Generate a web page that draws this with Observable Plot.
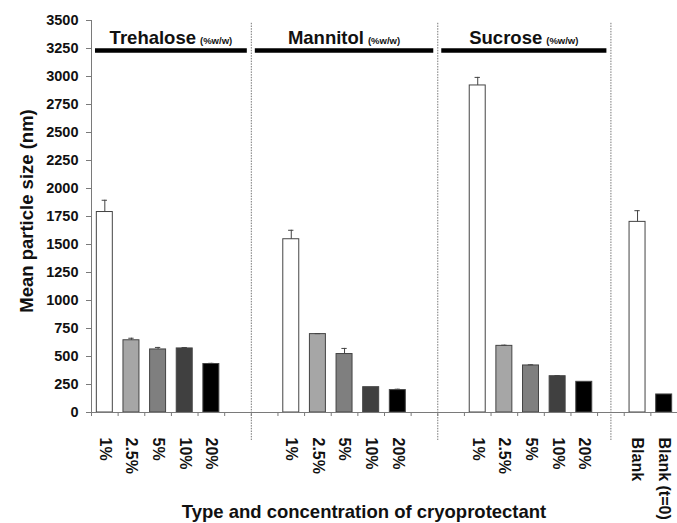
<!DOCTYPE html>
<html><head><meta charset="utf-8">
<script src="https://cdn.jsdelivr.net/npm/d3@7"></script>
<script src="https://cdn.jsdelivr.net/npm/@observablehq/plot@0.6"></script>
<style>
body{margin:0;background:#fff;}
svg{font-family:"Liberation Sans",Arial,sans-serif;}
</style>
</head><body><div id="chart"></div>
<script>
// ---- data ----
const groups = ["Trehalose", "Mannitol", "Sucrose"];
const groupUnit = "(%w/w)";
const concentrations = ["1%", "2.5%", "5%", "10%", "20%"];
const trehaloseSize = [1790, 645, 563, 572, 433];
const trehaloseErr  = [105, 18, 18, 8, 6];
const mannitolSize  = [1547, 700, 522, 226, 200];
const mannitolErr   = [80, 4, 50, 0, 8];
const sucroseSize   = [2920, 595, 420, 324, 274];
const sucroseErr    = [72, 6, 6, 6, 0];
const blankLabels   = ["Blank", "Blank (t=0)"];
const blankSize     = [1702, 161];
const blankErr      = [100, 0];
const yTicks = [0, 250, 500, 750, 1000, 1250, 1500, 1750, 2000, 2250, 2500, 2750, 3000, 3250, 3500];
const yLabel = "Mean particle size (nm)";
const xLabel = "Type and concentration of cryoprotectant";

const colorDomain = [...concentrations, ...blankLabels];
const colorRange = ["#ffffff", "#a6a6a6", "#7f7f7f", "#404040", "#000000", "#ffffff", "#000000"];

// ---- layout (slots on a category axis) ----
const sizes = [trehaloseSize, mannitolSize, sucroseSize];
const errs = [trehaloseErr, mannitolErr, sucroseErr];
const gapAfter = [2, 2, 1];
const rows = [];
const dividers = [];
const spans = [];
let slot = 0;
let prev = 0;
groups.forEach((g, gi) => {
  sizes[gi].forEach((v, i) => {
    rows.push({slot, label: concentrations[i], key: concentrations[i], value: v, err: errs[gi][i]});
    slot++;
  });
  const div = slot + gapAfter[gi] / 2;
  dividers.push(div);
  spans.push({group: g, x1: prev + 0.15, x2: div - 0.15});
  prev = div;
  slot += gapAfter[gi];
});
blankLabels.forEach((b, i) => {
  rows.push({slot, label: b, key: b, value: blankSize[i], err: blankErr[i]});
  slot++;
});
const nSlots = slot;
const errRows = rows.filter(d => d.err > 0);

const axisGray = "#7a7a7a";
const barStroke = "#444";

const chart = Plot.plot({
  width: 677, height: 523,
  marginLeft: 91, marginRight: 0, marginTop: 20, marginBottom: 111,
  x: {domain: [0, nSlots], axis: null},
  y: {domain: [0, 3500], axis: null},
  color: {domain: colorDomain, range: colorRange},
  style: {fontFamily: "'Liberation Sans', Arial, sans-serif", background: "white", color: "#111", overflow: "visible"},
  marks: [
    Plot.ruleX(dividers, {x: d => d, y1: 3475, y2: -250, stroke: "#777", strokeWidth: 1, strokeDasharray: "1.5,1.2"}),
    Plot.rectY(rows, {x1: d => d.slot + 0.2, x2: d => d.slot + 0.8, y1: 0, y2: "value", fill: "key", stroke: barStroke, strokeWidth: 1}),
    Plot.ruleX(errRows, {x: d => d.slot + 0.5, y1: "value", y2: d => d.value + d.err, stroke: barStroke, strokeWidth: 1}),
    Plot.ruleY(errRows, {y: d => d.value + d.err, x1: d => d.slot + 0.4, x2: d => d.slot + 0.6, stroke: barStroke, strokeWidth: 1}),
    Plot.axisY({ticks: yTicks, tickFormat: d => String(d), tickSize: 5, tickPadding: 8, fontSize: 14.5, fontWeight: "bold", label: null, stroke: axisGray, color: "#111"}),
    Plot.axisX({ticks: d3.range(0, nSlots + 1), tickSize: 4, tickFormat: () => "", label: null, stroke: axisGray}),
    Plot.ruleY([0], {stroke: axisGray}),
    Plot.ruleX([0], {stroke: axisGray}),
    Plot.text(rows, {x: d => d.slot + 0.5, y: 0, text: "label", rotate: 90, textAnchor: "start", lineAnchor: "middle", dy: 25, fontSize: 16, fontWeight: "bold", fill: "#111"}),
    Plot.ruleY(spans, {y: 3232, x1: "x1", x2: "x2", stroke: "#000", strokeWidth: 4.5})
  ]
});

const svg = d3.select(chart);
const xs = chart.scale("x");
const ys = chart.scale("y");

// group headers
spans.forEach(s => {
  const t = svg.append("text")
    .attr("x", xs.apply((s.x1 + s.x2) / 2))
    .attr("y", ys.apply(3290))
    .attr("text-anchor", "middle")
    .attr("font-weight", "bold")
    .attr("fill", "#111");
  t.append("tspan").attr("font-size", 18.5).text(s.group);
  t.append("tspan").attr("font-size", 9.5).attr("dx", 4).text(groupUnit);
});

// axis titles
svg.append("text")
  .attr("transform", `translate(33,211) rotate(-90)`)
  .attr("text-anchor", "middle")
  .attr("font-size", 18.5).attr("font-weight", "bold").attr("fill", "#111")
  .text(yLabel);
svg.append("text")
  .attr("x", 364).attr("y", 518)
  .attr("text-anchor", "middle")
  .attr("font-size", 18.5).attr("font-weight", "bold").attr("fill", "#111")
  .text(xLabel);

document.getElementById("chart").appendChild(chart);
</script>
</body></html>
